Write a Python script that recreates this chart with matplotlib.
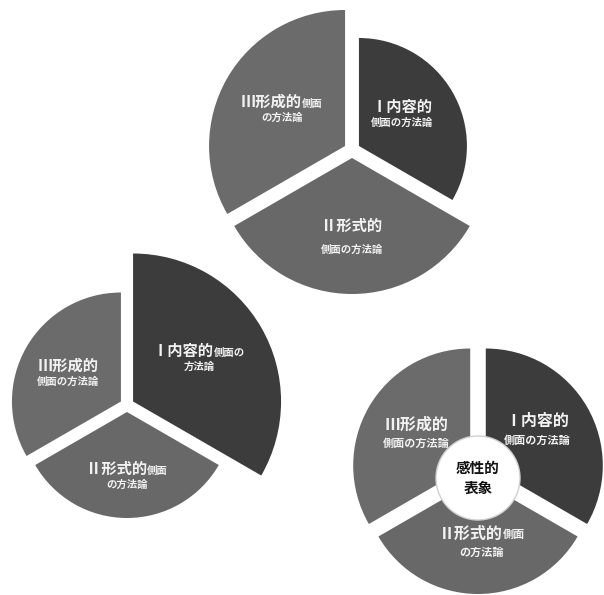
import math
import matplotlib
matplotlib.use("Agg")
import matplotlib.pyplot as plt
from matplotlib.offsetbox import TextArea, HPacker, VPacker, AnnotationBbox
from matplotlib.patches import Circle

plt.rcParams['font.family'] = ['Noto Sans CJK JP', 'DejaVu Sans']

W, H = 604, 595

# ---------------- data ----------------
categories = ["Ⅰ内容的側面の方法論", "Ⅱ形式的側面の方法論", "Ⅲ形成的側面の方法論"]
shares_top = [1, 1, 1]
shares_left = [1, 1, 1]
shares_right = [1, 1, 1]
center_label = "感性的\n表象"

# label text split: (large part, small tail on first line, second line)
labels_top = [("Ⅰ内容的", "", "側面の方法論"),
              ("Ⅱ形式的", "", "側面の方法論"),
              ("Ⅲ形成的", "側面", "の方法論")]
labels_left = [("Ⅰ内容的", "側面の", "方法論"),
               ("Ⅱ形式的", "側面", "の方法論"),
               ("Ⅲ形成的", "", "側面の方法論")]
labels_right = [("Ⅰ内容的", "", "側面の方法論"),
                ("Ⅱ形式的", "側面", "の方法論"),
                ("Ⅲ形成的", "", "側面の方法論")]

# ---------------- styles / layout (pixel coordinates, y downward) ----------------
DARK = "#3c3c3c"
MID = "#686868"
MID2 = "#6b6b6b"

charts = [
    dict(shares=shares_top, labels=labels_top, center=(352, 150), radii=[108, 136, 136],
         explode=8, colors=[DARK, MID, MID2],
         label_pos=[(402, 113), (352, 236), (282, 108)], big=11, small=7.5, sep=[2, 8, 2]),
    dict(shares=shares_left, labels=labels_left, center=(127, 405), radii=[148, 106, 109],
         explode=7, colors=[DARK, MID, MID2],
         label_pos=[(199, 357), (127, 475), (68, 372)], big=11, small=7.5, sep=[2, 2, 2]),
    dict(shares=shares_right, labels=labels_right, center=(478, 470), radii=[117, 115, 117],
         explode=9, colors=[DARK, MID, MID2],
         label_pos=[(537, 430), (482, 542), (416, 433)], big=11.5, small=8, sep=[3, 3, 3]),
]
circle_center = (478, 478)
circle_radius = 42

fig = plt.figure(figsize=(W / 100, H / 100), dpi=100)
ax = fig.add_axes([0, 0, 1, 1])


def label_box(big, tail, line2, big_size, small_size, sep, color="#f2f2f2"):
    parts = [TextArea(big, textprops=dict(color=color, fontsize=big_size, fontweight="bold"))]
    if tail:
        parts.append(TextArea(tail, textprops=dict(color=color, fontsize=small_size, fontweight="bold")))
    line1 = HPacker(children=parts, align="baseline", pad=0, sep=0)
    l2 = TextArea(line2, textprops=dict(color=color, fontsize=small_size, fontweight="bold"))
    return VPacker(children=[line1, l2], align="center", pad=0, sep=sep)


for ch in charts:
    cx, cy = ch["center"]
    cy = H - cy
    wedges, _ = ax.pie(ch["shares"], radius=1, center=(cx, cy), startangle=90,
                       counterclock=False, colors=ch["colors"],
                       wedgeprops=dict(linewidth=0))
    for w, r in zip(wedges, ch["radii"]):
        thetam = math.radians(0.5 * (w.theta1 + w.theta2))
        e = ch["explode"]
        w.set_center((cx + e * math.cos(thetam), cy + e * math.sin(thetam)))
        w.set_radius(r)
    for (big, tail, line2), (lx, ly), sp in zip(ch["labels"], ch["label_pos"], ch["sep"]):
        box = label_box(big, tail, line2, ch["big"], ch["small"], sp)
        ab = AnnotationBbox(box, (lx, H - ly), xycoords="data", frameon=False,
                            box_alignment=(0.5, 0.5), pad=0)
        ax.add_artist(ab)

ax.add_patch(Circle((circle_center[0], H - circle_center[1]), circle_radius,
                    facecolor="white", edgecolor="#d0d0d0", linewidth=1, zorder=5))
ax.text(circle_center[0], H - circle_center[1], center_label, ha="center", va="center",
        fontsize=10.5, fontweight="bold", color="#111111", linespacing=1.3, zorder=6)

ax.set_xlim(0, W)
ax.set_ylim(0, H)
ax.set_aspect("equal")
ax.axis("off")

fig.savefig("out.png", dpi=100, facecolor="white")
